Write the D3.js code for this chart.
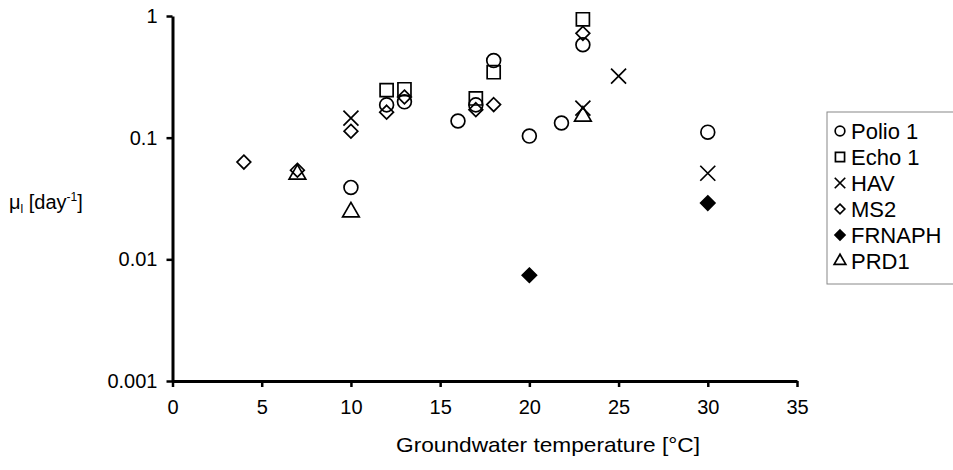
<!DOCTYPE html>
<html>
<head>
<meta charset="utf-8">
<script src="https://cdn.jsdelivr.net/npm/d3@7"></script>
<style>
  body { margin: 0; background: #fff; }
  svg { font-family: "Liberation Sans", Arial, sans-serif; }
</style>
</head>
<body>
<svg id="chart" width="953" height="470"></svg>
<script>
// series: [temperature, inactivation rate]
const polio1 = [[10, 0.039], [12, 0.186], [13, 0.197], [16, 0.137], [17, 0.186], [18, 0.43], [20, 0.103], [21.8, 0.132], [23, 0.58], [30, 0.111]];
const echo1 = [[12, 0.246], [13, 0.25], [17, 0.21], [18, 0.345], [23, 0.94]];
const hav = [[10, 0.145], [23, 0.175], [25, 0.32], [30, 0.051]];
const ms2 = [[4, 0.063], [7, 0.054], [10, 0.113], [12, 0.162], [13, 0.216], [17, 0.17], [18, 0.187], [23, 0.72]];
const frnaph = [[20, 0.0074], [30, 0.029]];
const prd1 = [[7, 0.05], [10, 0.0245], [23, 0.15]];

const xTicks = [0, 5, 10, 15, 20, 25, 30, 35];
const yTicks = [0.001, 0.01, 0.1, 1];
const seriesNames = ["Polio 1", "Echo 1", "HAV", "MS2", "FRNAPH", "PRD1"];

const svg = d3.select("#chart");
const x = d3.scaleLinear().domain([0, 35]).range([172.5, 797]);
const y = d3.scaleLog().domain([0.001, 1]).range([381, 16]);

// axes
const xAxis = svg.append("g").attr("transform", "translate(0,381)")
  .call(d3.axisBottom(x).tickValues(xTicks).tickSize(6).tickPadding(13).tickSizeOuter(0));
const yAxis = svg.append("g").attr("transform", "translate(172.5,0)")
  .call(d3.axisLeft(y).tickValues(yTicks).tickFormat(d3.format("~g")).tickSize(6).tickPadding(9).tickSizeOuter(0));
[xAxis, yAxis].forEach(a => {
  a.select(".domain").attr("stroke", "#000").attr("stroke-width", 3);
  a.selectAll(".tick line").attr("stroke", "#000").attr("stroke-width", 2.5);
  a.selectAll("text").attr("font-size", 20).attr("fill", "#000")
    .attr("font-family", "Liberation Sans, Arial, sans-serif");
});

svg.append("text").attr("x", 548).attr("y", 452).attr("text-anchor", "middle")
  .attr("font-size", 21).attr("textLength", 304).attr("lengthAdjust", "spacingAndGlyphs")
  .text("Groundwater temperature [°C]");
const yl = svg.append("text").attr("x", 9).attr("y", 209).attr("font-size", 20);
yl.append("tspan").text("μ");
yl.append("tspan").attr("font-size", 12).attr("dy", 4).text("l");
yl.append("tspan").attr("dy", -4).text(" [day");
yl.append("tspan").attr("font-size", 12).attr("dy", -8).text("-1");
yl.append("tspan").attr("dy", 8).text("]");

// marker shapes
const markers = {
  "Polio 1": {shape: d3.symbolCircle, size: 150, fill: "none"},
  "Echo 1": {shape: d3.symbolSquare, size: 170, fill: "none"},
  "HAV": {shape: null, size: 0, fill: "none", cross: true},
  "MS2": {shape: d3.symbolDiamond2, size: 120, fill: "none"},
  "FRNAPH": {shape: d3.symbolDiamond2, size: 130, fill: "#000"},
  "PRD1": {shape: d3.symbolTriangle, size: 120, fill: "none"}
};
const allSeries = [polio1, echo1, hav, ms2, frnaph, prd1];

function drawMarker(g, name, scale) {
  const m = markers[name];
  if (m.cross) {
    const s = 7.5 * scale;
    g.append("path").attr("d", `M${-s},${-s}L${s},${s}M${-s},${s}L${s},${-s}`)
      .attr("stroke", "#000").attr("stroke-width", 1.7).attr("fill", "none");
  } else {
    g.append("path").attr("d", d3.symbol().type(m.shape).size(m.size * scale * scale)())
      .attr("stroke", "#000").attr("stroke-width", 1.7).attr("fill", m.fill);
  }
}

seriesNames.forEach((name, i) => {
  svg.append("g").selectAll("g").data(allSeries[i]).join("g")
    .attr("transform", d => `translate(${x(d[0])},${y(d[1])})`)
    .each(function() { drawMarker(d3.select(this), name, 1); });
});

// legend
const legend = svg.append("g");
legend.append("rect").attr("x", 827).attr("y", 112).attr("width", 140).attr("height", 172)
  .attr("fill", "#fff").attr("stroke", "#888").attr("stroke-width", 1);
seriesNames.forEach((name, i) => {
  const row = legend.append("g").attr("transform", `translate(0,${131 + i * 26})`);
  const mg = row.append("g").attr("transform", "translate(840,0)");
  drawMarker(mg, name, 0.7);
  row.append("text").attr("x", 851).attr("y", 7.5).attr("font-size", 22).text(name);
});
</script>
</body>
</html>
